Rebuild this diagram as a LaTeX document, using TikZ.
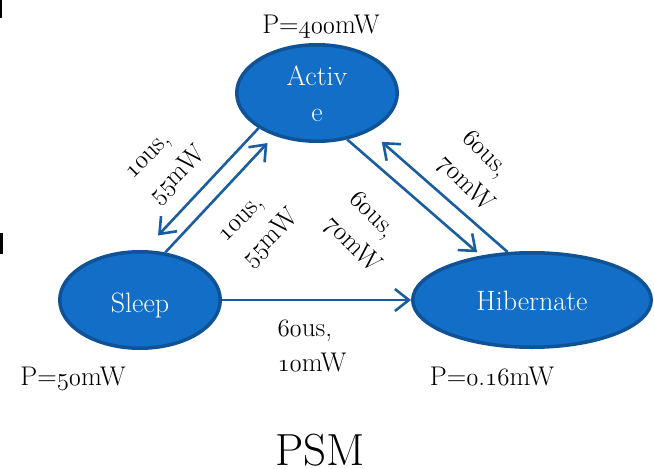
\documentclass[tikz,border=0pt]{standalone}
\usetikzlibrary{shapes.geometric,arrows.meta,calc}
\definecolor{fillc}{RGB}{18,110,198}
\definecolor{edgec}{RGB}{16,82,150}
\definecolor{arrc}{RGB}{27,94,160}
\newcommand\od[1]{{\usefont{OML}{cmm}{m}{it}#1}}
\begin{document}
\begin{tikzpicture}[x=1pt,y=-1pt,
  state/.style={ellipse, draw=edgec, fill=fillc, line width=3.5pt, text=white,
    inner sep=0pt, align=center, font=\fontsize{28}{36}\selectfont},
  lbl/.style={font=\fontsize{27}{35}\selectfont, align=left, inner sep=0pt},
  arr/.style={draw=arrc, line width=2.6pt, -{Straight Barb[length=14pt,width=22pt]}}]
\useasboundingbox (0,0) rectangle (654,469);
\fill[white] (0,0) rectangle (654,469);
% partial marks on the left edge
\fill[black] (0,0) rectangle (2,18);
\fill[black] (0,233) rectangle (3,254);

\node[state, minimum width=160.5pt, minimum height=96.5pt, text height=56pt, text depth=0pt] (act) at (317,93) {Activ\\e};
\node[state, minimum width=160.5pt, minimum height=96.5pt, text height=24pt, text depth=0pt] (slp) at (140,300) {Sleep};
\node[state, minimum width=238.5pt, minimum height=94.5pt, text height=20pt, text depth=0pt] (hib) at (532,300) {Hibernate};

\draw[arr, shorten >=20pt] (act.211) -- (slp.85);
\draw[arr, shorten >=10pt] (slp.62) -- (act.225);
\draw[arr, shorten >=5pt] (act.303) -- (hib.139);
\draw[arr, shorten >=16pt] (hib.117) -- (act.324);
\draw[arr] (slp.east) -- (hib.west);

\node[lbl, rotate=45] (l1) at (167,165) {\od{10}us,\\\od{55}mW};
\node[lbl, rotate=45] (l2) at (260,228) {\od{10}us,\\\od{55}mW};
\node[lbl, rotate=-45] (l3) at (364,233) {\od{60}us,\\\od{70}mW};
\node[lbl, rotate=-45] (l4) at (477,172) {\od{60}us,\\\od{70}mW};
\node[lbl] (l5) at (312,346) {\od{60}us,\\\od{10}mW};

\node[lbl, anchor=base] (p1) at (321,33) {P=\od{400}mW};
\node[lbl, anchor=base] (p2) at (73,385) {P=\od{50}mW};
\node[lbl, anchor=base] (p3) at (492,385) {P=\od{0}.\od{16}mW};
\node[font=\fontsize{45}{50}\selectfont, anchor=base, inner sep=0pt] (psm) at (320,465) {PSM};
\end{tikzpicture}
\end{document}
